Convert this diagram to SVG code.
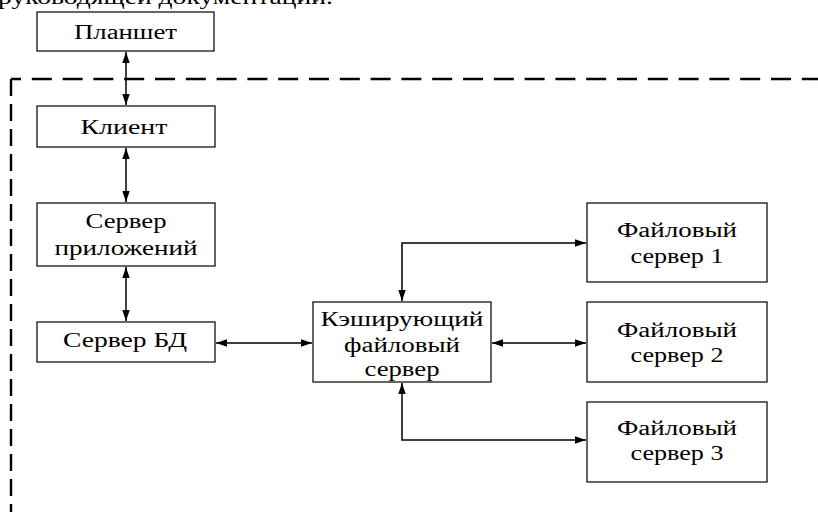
<svg xmlns="http://www.w3.org/2000/svg" width="818" height="512" viewBox="0 0 818 512">
<defs>
<marker id="ah" viewBox="0 0 11 10" refX="11" refY="5" markerWidth="11" markerHeight="10" markerUnits="userSpaceOnUse" orient="auto-start-reverse">
<path d="M0,1.3 L11,5 L0,8.7 z" fill="#000"/>
</marker>
<style>
.box{fill:#fff;stroke:#000;stroke-width:1.2}
.t{font-family:"Liberation Serif","Times New Roman",serif;font-size:20.5px;fill:#000;text-anchor:middle}
.c{fill:none;stroke:#000;stroke-width:1.5}
.a{marker-start:url(#ah);marker-end:url(#ah)}
.d{fill:none;stroke:#000;stroke-width:2.4}
</style>
</defs>
<rect width="818" height="512" fill="#fff"/>
<text x="-2" y="4" font-family="Liberation Serif, Times New Roman, serif" font-size="21" fill="#000" textLength="335" lengthAdjust="spacingAndGlyphs">руководящей документации.</text>
<path class="d" d="M11,79 H818" stroke-dasharray="20,10.8" stroke-dashoffset="10"/>
<path class="d" d="M11,79 V512" stroke-dasharray="17,8"/>
<g id="connectors">
<line class="c a" x1="126" y1="52" x2="126" y2="105"/>
<line class="c a" x1="126" y1="148" x2="126" y2="202"/>
<line class="c a" x1="126" y1="267" x2="126" y2="321"/>
<line class="c a" x1="216" y1="343" x2="312" y2="343"/>
<line class="c a" x1="492" y1="343" x2="586" y2="343"/>
<path class="c a" d="M402,301 V243 H586"/>
<path class="c a" d="M402,383 V440 H586"/>
</g>
<g id="n-planshet"><rect class="box" x="37" y="12" width="177" height="39"/><text class="t" x="125.5" y="39" textLength="103" lengthAdjust="spacingAndGlyphs">Планшет</text></g>
<g id="n-client"><rect class="box" x="37" y="106" width="178" height="41"/><text class="t" x="124" y="134" textLength="87" lengthAdjust="spacingAndGlyphs">Клиент</text></g>
<g id="n-appserver"><rect class="box" x="37" y="203" width="178" height="63"/><text class="t" x="126" y="228" textLength="81" lengthAdjust="spacingAndGlyphs">Сервер</text><text class="t" x="126" y="255" textLength="143" lengthAdjust="spacingAndGlyphs">приложений</text></g>
<g id="n-db"><rect class="box" x="37" y="322" width="178" height="40"/><text class="t" x="125" y="347" textLength="124" lengthAdjust="spacingAndGlyphs">Сервер БД</text></g>
<g id="n-cache"><rect class="box" x="313" y="302" width="178" height="80"/><text class="t" x="402" y="326" textLength="163" lengthAdjust="spacingAndGlyphs">Кэширующий</text><text class="t" x="402" y="352" textLength="116" lengthAdjust="spacingAndGlyphs">файловый</text><text class="t" x="402" y="376" textLength="75" lengthAdjust="spacingAndGlyphs">сервер</text></g>
<g id="n-fs1"><rect class="box" x="587" y="203" width="180" height="79"/><text class="t" x="677" y="237" textLength="120" lengthAdjust="spacingAndGlyphs">Файловый</text><text class="t" x="677" y="263" textLength="93" lengthAdjust="spacingAndGlyphs">сервер 1</text></g>
<g id="n-fs2"><rect class="box" x="587" y="302" width="180" height="80"/><text class="t" x="677" y="337" textLength="120" lengthAdjust="spacingAndGlyphs">Файловый</text><text class="t" x="677" y="362" textLength="93" lengthAdjust="spacingAndGlyphs">сервер 2</text></g>
<g id="n-fs3"><rect class="box" x="587" y="402" width="180" height="80"/><text class="t" x="677" y="435" textLength="120" lengthAdjust="spacingAndGlyphs">Файловый</text><text class="t" x="677" y="460" textLength="93" lengthAdjust="spacingAndGlyphs">сервер 3</text></g>
</svg>
